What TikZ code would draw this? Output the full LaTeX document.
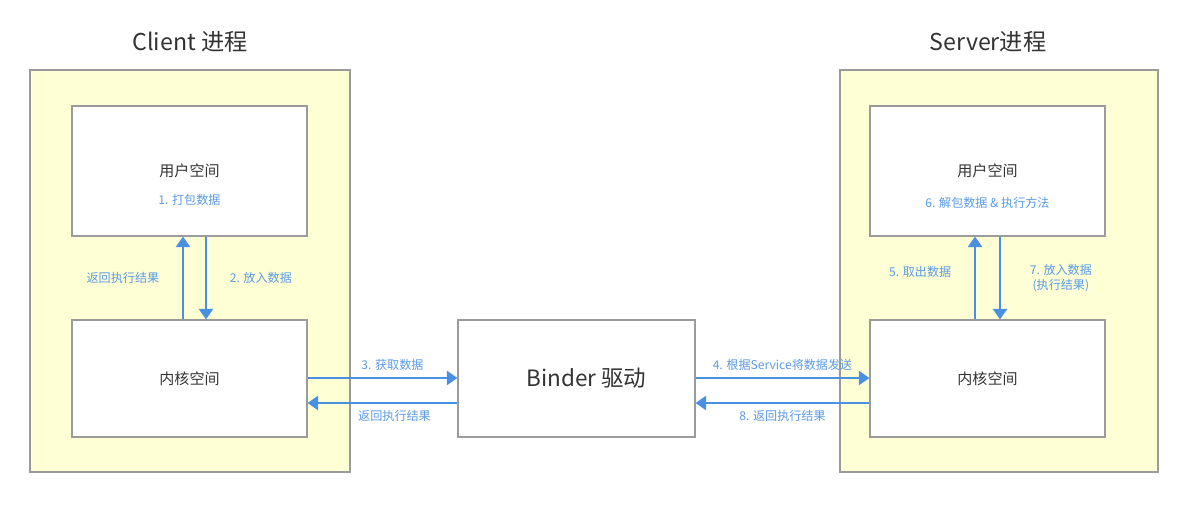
\documentclass[tikz,border=0pt]{standalone}
\usepackage{fontspec}
\setmainfont{Noto Sans CJK SC}
\usetikzlibrary{arrows.meta}
\definecolor{procyellow}{HTML}{FFFFD6}
\definecolor{boxgray}{HTML}{9B9B9B}
\definecolor{flowblue}{HTML}{4A90E2}
\definecolor{noteblue}{HTML}{5B9BE6}
\definecolor{textgray}{HTML}{333333}

\begin{document}
\begin{tikzpicture}[
    proc/.style={draw=boxgray, fill=procyellow, line width=0.8pt, minimum height=10.05cm},
    space/.style={draw=boxgray, fill=white, line width=0.8pt, minimum width=5.875cm, text=textgray, font=\fontsize{10.7}{13}\selectfont},
    flow/.style={draw=flowblue, line width=1.6pt, -{Triangle[width=10pt,length=7.5pt]}},
    note/.style={text=noteblue, font=\fontsize{8.6}{11}\selectfont, align=center},
    title/.style={text=textgray, font=\fontsize{16.5}{20}\selectfont}]
        \useasboundingbox[fill=white] (0,0) rectangle (30,-12.625);
        % the two processes
        \node[proc, minimum width=8cm] (client) at (4.75,-6.775) {};
        \node[proc, minimum width=7.95cm] (server) at (24.975,-6.775) {};
        \node[title] (clienttitle) at (4.75,-1.05) {Client 进程};
        \node[title] (servertitle) at (24.7,-1.05) {Server进程};
        % user and kernel spaces
        \node[space, minimum height=3.25cm] (cuser) at (4.7375,-4.275) {用户空间};
        \node[space, minimum height=2.925cm] (ckernel) at (4.7375,-9.4625) {内核空间};
        \node[space, minimum height=3.25cm] (suser) at (24.6875,-4.275) {用户空间};
        \node[space, minimum height=2.925cm] (skernel) at (24.6875,-9.4625) {内核空间};
        \node[space, minimum width=5.925cm, minimum height=2.925cm] (binder) at (14.4125,-9.4625) {};
        \node[text=textgray, font=\fontsize{16}{18}\selectfont] (bindertext) at ([xshift=0.25cm]binder.center) {Binder 驱动};
        \node[note] (pack) at ([yshift=-0.725cm]cuser.center) {1. 打包数据};
        \node[note] (unpack) at ([yshift=-0.8cm]suser.center) {6. 解包数据 \& 执行方法};
        % client side
        \draw[flow] ([xshift=-0.1625cm]ckernel.north) -- ([xshift=-0.1625cm]cuser.south) node[midway,left=0.45cm,note] {返回执行结果};
        \draw[flow] ([xshift=0.4125cm]cuser.south) -- ([xshift=0.4125cm]ckernel.north) node[midway,right=0.45cm,note] {2. 放入数据};
        \draw[flow] ([yshift=0.0125cm]ckernel.east) -- ([yshift=0.0125cm]binder.west) node[midway,above=1pt,xshift=0.25cm,note] {3. 获取数据};
        \draw[flow] ([yshift=-0.6125cm]binder.west) -- ([yshift=-0.6125cm]ckernel.east) node[midway,below=1pt,xshift=0.3cm,note] {返回执行结果};
        % server side
        \draw[flow] ([yshift=0.0125cm]binder.east) -- ([yshift=0.0125cm]skernel.west) node[midway,above=1pt,note] {4. 根据Service将数据发送};
        \draw[flow] ([yshift=-0.6125cm]skernel.west) -- ([yshift=-0.6125cm]binder.east) node[midway,below=1pt,note] {8. 返回执行结果};
        \draw[flow] ([xshift=-0.3125cm]skernel.north) -- ([xshift=-0.3125cm]suser.south) node[midway,left=0.45cm,yshift=0.15cm,note] {5. 取出数据};
        \draw[flow] ([xshift=0.3125cm]suser.south) -- ([xshift=0.3125cm]skernel.north) node[midway,right=0.6cm,note] {7. 放入数据\\(执行结果)};
    \end{tikzpicture}
\end{document}
